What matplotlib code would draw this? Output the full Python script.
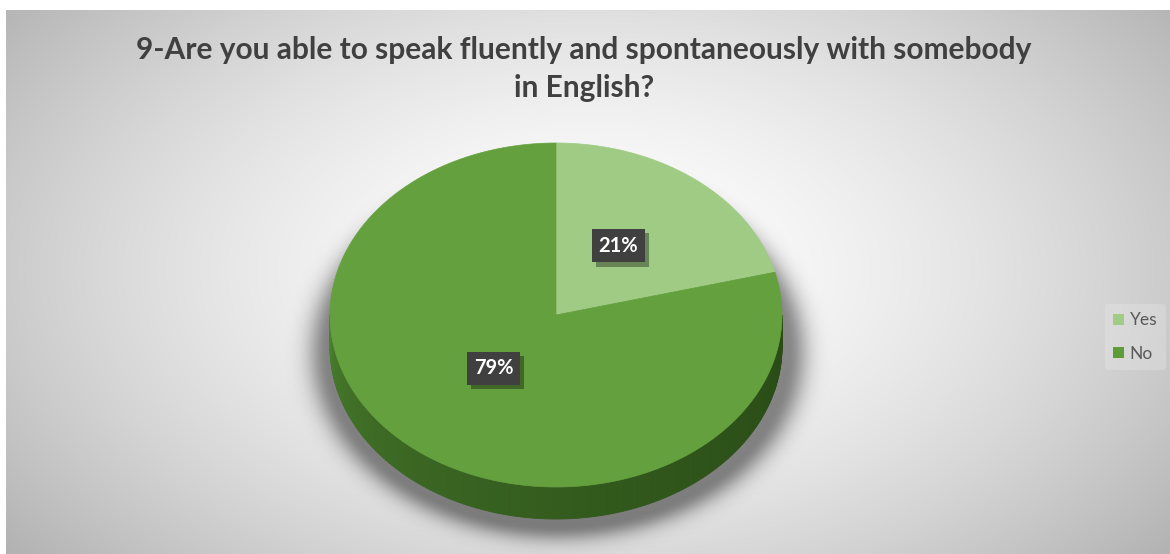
import numpy as np
import matplotlib.pyplot as plt
from matplotlib.patches import Polygon, Patch
import matplotlib.patheffects as pe

# Datos de la encuesta
etiquetas = ['Yes', 'No']
porcentajes = [21, 79]
colores = ['#9FCB84', '#64A13E']
titulo = '9-Are you able to speak fluently and spontaneously with somebody\nin English?'

plt.rcParams['font.family'] = ['Lato', 'DejaVu Sans']

W, H = 1170, 554
fig = plt.figure(figsize=(W / 100, H / 100), dpi=100)
ax = fig.add_axes([0, 0, 1, 1])
ax.set_xlim(0, W)
ax.set_ylim(H, 0)
ax.axis('off')

# Fondo con degradado radial (blanco al centro, gris en las esquinas)
x0, y0 = 6, 10
xs = np.linspace(x0, W, 400)
ys = np.linspace(y0, H, 200)
X, Y = np.meshgrid(xs, ys)
r = np.sqrt(((X - 590) / 700) ** 2 + ((Y - 270) / 420) ** 2)
gris = 1 - 0.27 * np.clip(r, 0, 1.2) ** 1.6
fondo = np.dstack([gris, gris, gris])
ax.imshow(fondo, extent=(x0, W, H, y0), aspect='auto', zorder=0, interpolation='bilinear')

# Geometría del pastel 3D
cx, cy, rx, ry, prof = 556, 315, 226, 172, 32

# Sombra difusa bajo el pastel
sx, sy = cx + 2, cy + prof + 6
d = np.sqrt(((X - sx) / (rx + 4)) ** 2 + ((Y - sy) / (ry + 2)) ** 2) - 1
d = np.clip(d, 0, None) * 200
alfa = 0.45 * np.exp(-(d / 18) ** 2)
sombra = np.zeros((len(ys), len(xs), 4))
sombra[..., 3] = alfa
ax.imshow(sombra, extent=(x0, W, H, y0), aspect='auto', zorder=1, interpolation='bilinear')

# Lateral visible (mitad inferior), en tiras con sombreado
n = 240
t = np.linspace(0, np.pi, n + 1)
c0 = np.array([0x4E, 0x86, 0x31]) / 255
c1 = np.array([0x29, 0x4B, 0x16]) / 255
for i in range(n):
    ta, tb = t[i], t[i + 1]
    tm = (ta + tb) / 2
    # más claro a la izquierda, más oscuro a la derecha
    w = np.clip(((np.pi - tm) / np.pi) ** 0.5, 0, 1)
    col = c0 * (1 - w) + c1 * w
    pa = (cx + rx * np.cos(ta), cy + ry * np.sin(ta))
    pb = (cx + rx * np.cos(tb), cy + ry * np.sin(tb))
    quad = [pa, pb, (pb[0], pb[1] + prof), (pa[0], pa[1] + prof)]
    ax.add_patch(Polygon(quad, closed=True, facecolor=col, edgecolor=col, lw=0.6, zorder=2))

# Cara superior: rebanadas desde las 12 en sentido horario
fracs = np.array(porcentajes) / sum(porcentajes)
inicio = -np.pi / 2
angulos_medios = []
for frac, col in zip(fracs, colores):
    fin = inicio + 2 * np.pi * frac
    tt = np.linspace(inicio, fin, 300)
    pts = [(cx, cy)] + [(cx + rx * np.cos(a), cy + ry * np.sin(a)) for a in tt]
    ax.add_patch(Polygon(pts, closed=True, facecolor=col, edgecolor=col, lw=0.5, zorder=3))
    angulos_medios.append((inicio + fin) / 2)
    inicio = fin

# Etiquetas de porcentaje con caja oscura y sombra
sombra_caja = [pe.SimplePatchShadow(offset=(3, -3), alpha=0.35, shadow_rgbFace='black'), pe.Normal()]
for p, am in zip(porcentajes, angulos_medios):
    lx = cx + 0.45 * rx * np.cos(am)
    ly = cy + 0.45 * ry * np.sin(am) - 8
    txt = ax.text(lx, ly, f'{p}%', ha='center', va='center', fontsize=14.5, fontweight='bold',
                  color='white', zorder=5,
                  bbox=dict(boxstyle='square,pad=0.33', fc='#404040', ec='none'))
    txt.get_bbox_patch().set_path_effects(sombra_caja)

# Título
ax.text(584, 69, titulo, ha='center', va='center', fontsize=21.5, fontweight='bold',
        color='#404040', linespacing=1.45, zorder=6)

# Leyenda
handles = [Patch(facecolor=c, edgecolor='none') for c in ['#A0CC85', '#5E9B39']]
leg = ax.legend(handles, etiquetas, loc='center left', bbox_to_anchor=(1096, 337),
                bbox_transform=ax.transData, frameon=True, fontsize=12.5,
                handlelength=0.6, handleheight=0.6, handletextpad=0.35,
                labelspacing=1.0, borderpad=0.5)
leg.get_frame().set_facecolor('#F2F2F2')
leg.get_frame().set_alpha(0.25)
leg.get_frame().set_edgecolor('none')
for tx in leg.get_texts():
    tx.set_color('#595959')

fig.savefig('out.png', dpi=100)
